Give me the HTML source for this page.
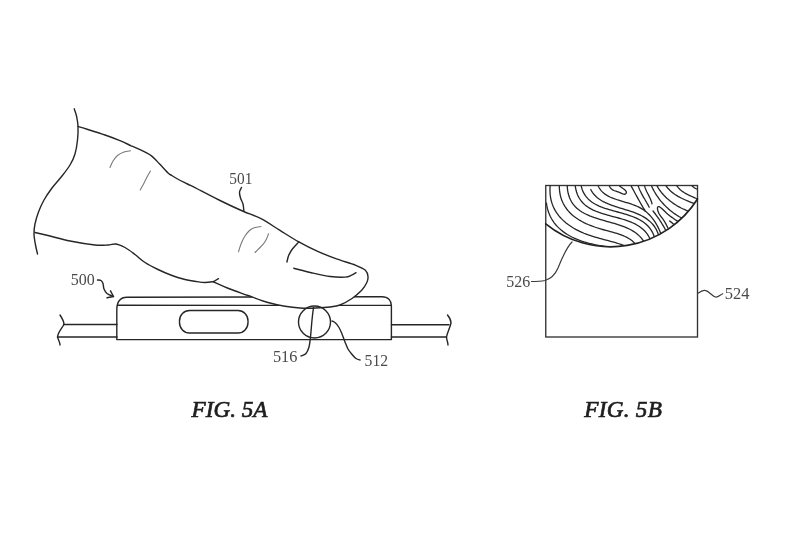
<!DOCTYPE html>
<html><head><meta charset="utf-8">
<style>
html,body{margin:0;padding:0;background:#fff;}
body{width:800px;height:533px;overflow:hidden;}
svg{display:block;}
text{font-family:"Liberation Serif",serif;}
.gs{filter:grayscale(1);}
</style></head>
<body>
<svg width="800" height="533" viewBox="0 0 800 533">
<g fill="none" stroke="#262626" stroke-width="1.4" stroke-linecap="round" stroke-linejoin="round">
<path d="M116.8,339.6 L116.8,310 C116.8,302 120,297.2 127,297.2 L382,296.7 C388,296.7 391.4,300.5 391.4,306 L391.4,339.6 Z"/>
<path d="M117.5,305.3 L391.4,305.4"/>
<rect x="179.5" y="310.5" width="68.5" height="22.5" rx="10" ry="10.5"/>
<path d="M63.5,324.5 L117,324.5"/>
<path d="M57.5,337 L117,337"/>
<path d="M60,315 C62,318 64,321 64,324.5 C62,328 58,332 57.5,337 C58,339 60,342 60,345"/>
<path d="M391.4,324.8 L449,324.8"/>
<path d="M391.4,337 L446.5,337"/>
<path d="M447.5,315 C450,318 451,321 451,323 C450,328 447,333 446.5,337 C446.5,340 448,342 448,345"/>
<path d="M317.7,251.4 C320.8,252.7 330.2,256.6 336.5,258.9 C342.8,261.2 350.6,263.3 355.4,265.2 C360.2,267.1 363.3,268.3 365.4,270.2 C367.5,272.1 367.8,274.4 368.0,276.5 C368.2,278.6 367.8,280.5 366.7,282.8 C365.6,285.1 364.1,287.7 361.7,290.3 C359.2,292.9 355.6,296.1 352.0,298.5 C348.4,300.9 343.7,303.6 340.0,305.0 C336.3,306.4 334.0,306.5 330.0,307.0 C326.0,307.5 321.0,307.8 316.0,308.0 C311.0,308.2 305.2,308.3 300.0,308.0 C294.8,307.7 290.3,307.2 285.0,306.3 C279.7,305.4 274.2,304.3 268.0,302.5 C261.8,300.7 254.3,297.8 248.0,295.5 C241.7,293.2 235.8,291.3 230.0,289.0 C224.2,286.7 216.2,283.0 213.5,281.8 Z" fill="#fff" stroke="none"/>
<ellipse cx="314.5" cy="322" rx="16" ry="16"/>
<path d="M74.2,108.8 C74.6,110.0 75.9,113.1 76.5,116.0 C77.1,118.9 77.8,122.0 78.0,126.0 C78.2,130.0 78.0,135.3 77.5,140.0 C77.0,144.7 76.2,149.8 75.0,154.0 C73.8,158.2 72.2,161.3 70.0,165.0 C67.8,168.7 65.0,172.2 62.0,176.0 C59.0,179.8 55.0,184.0 52.0,188.0 C49.0,192.0 46.2,196.0 44.0,200.0 C41.8,204.0 40.0,208.0 38.5,212.0 C37.0,216.0 35.8,220.3 35.0,224.0 C34.2,227.7 33.9,230.5 34.0,234.0 C34.1,237.5 34.9,241.7 35.5,245.0 C36.1,248.3 37.2,252.5 37.5,254.0"/>
<path d="M78.0,126.3 C82.5,127.8 98.0,132.6 105.0,135.0 C112.0,137.4 115.6,138.9 120.0,140.7 C124.4,142.5 127.5,144.1 131.2,145.8 C135.0,147.4 139.1,149.1 142.5,150.8 C145.9,152.5 148.7,153.7 151.5,155.9 C154.3,158.1 156.6,160.8 159.4,163.8 C162.2,166.7 166.5,171.4 168.4,173.3 C170.3,175.2 170.6,174.7 171.0,175.0"/>
<path d="M171.0,175.0 C172.2,175.8 175.8,178.0 178.5,179.5 C181.2,181.0 184.3,182.4 187.5,184.0 C190.7,185.6 192.2,186.2 197.6,189.0 C203.0,191.8 212.5,196.8 220.0,200.5 C227.5,204.2 235.7,208.0 242.5,211.0 C249.3,214.0 254.8,215.5 261.0,218.7 C267.2,221.9 273.7,226.5 280.0,230.4 C286.3,234.3 292.5,238.4 298.8,241.9 C305.1,245.4 311.4,248.6 317.7,251.4 C324.0,254.2 330.2,256.6 336.5,258.9 C342.8,261.2 350.6,263.3 355.4,265.2 C360.2,267.1 363.3,268.3 365.4,270.2 C367.5,272.1 367.8,274.4 368.0,276.5 C368.2,278.6 367.8,280.5 366.7,282.8 C365.6,285.1 364.1,287.7 361.7,290.3 C359.2,292.9 355.6,296.1 352.0,298.5 C348.4,300.9 343.7,303.6 340.0,305.0 C336.3,306.4 334.0,306.5 330.0,307.0 C326.0,307.5 321.0,307.8 316.0,308.0 C311.0,308.2 305.2,308.3 300.0,308.0 C294.8,307.7 290.3,307.2 285.0,306.3 C279.7,305.4 274.2,304.3 268.0,302.5 C261.8,300.7 254.3,297.8 248.0,295.5 C241.7,293.2 235.8,291.3 230.0,289.0 C224.2,286.7 216.2,283.0 213.5,281.8"/>
<path d="M35.0,232.5 C37.5,233.1 44.2,234.6 50.0,236.0 C55.8,237.4 62.5,239.5 70.0,241.0 C77.5,242.5 88.7,244.3 95.0,245.0 C101.3,245.7 104.5,245.2 108.0,245.0 C111.5,244.8 113.2,243.6 116.0,244.0 C118.8,244.4 121.8,245.8 125.0,247.5 C128.2,249.2 131.7,252.0 135.0,254.5 C138.3,257.0 141.2,260.0 145.0,262.5 C148.8,265.0 153.5,267.3 158.0,269.5 C162.5,271.7 167.5,273.8 172.0,275.5 C176.5,277.2 181.2,278.5 185.0,279.5 C188.8,280.5 191.7,280.8 195.0,281.3 C198.3,281.8 201.9,282.5 205.0,282.5 C208.1,282.5 212.3,281.7 213.8,281.5"/>
<path d="M298.8,241.9 C297.8,243.1 294.3,246.6 292.6,248.8 C290.9,251.0 289.8,252.9 288.8,255.1 C287.9,257.3 287.2,260.9 286.9,262.0"/>
<path d="M293.8,268.3 C296.7,269.0 305.3,271.3 311.4,272.7 C317.5,274.1 324.6,275.8 330.3,276.5 C336.0,277.2 341.8,277.3 345.3,277.1 C348.9,276.9 349.8,275.9 351.6,275.2 C353.4,274.5 355.3,273.1 356.0,272.7"/>
<path d="M241.5,187.5 C241.2,188.2 239.7,190.2 239.5,192.0 C239.3,193.8 239.9,196.0 240.5,198.0 C241.1,200.0 242.4,201.8 243.0,204.0 C243.6,206.2 243.7,209.8 243.8,211.0"/>
<path d="M97.5,280.0 C98.1,280.1 100.1,279.9 101.0,280.5 C101.9,281.1 102.5,282.1 103.0,283.5 C103.5,284.9 103.3,287.3 104.0,289.0 C104.7,290.7 105.4,292.2 107.0,293.5 C108.6,294.8 112.4,296.0 113.5,296.5"/>
<path d="M313.5,307.5 C313.2,309.6 312.5,315.1 312.0,320.0 C311.5,324.9 311.0,332.5 310.5,337.0 C310.0,341.5 309.8,344.2 309.0,347.0 C308.2,349.8 307.3,352.0 306.0,353.5 C304.7,355.0 301.8,355.6 301.0,356.0"/>
<path d="M332.0,321.0 C332.6,321.3 334.3,321.9 335.5,323.0 C336.7,324.1 337.9,325.7 339.0,327.5 C340.1,329.3 341.0,331.6 342.0,334.0 C343.0,336.4 344.0,339.5 345.0,342.0 C346.0,344.5 346.8,346.8 348.0,349.0 C349.2,351.2 351.2,353.4 352.5,355.0 C353.8,356.6 354.8,357.7 356.0,358.5 C357.2,359.3 359.3,359.8 360.0,360.0"/>
<path d="M213.75,281.5 L218.5,278.7"/>
<path d="M107,297.8 L113.5,296.5 L110.5,290.8"/>
</g>
<g fill="none" stroke="#7a7a7a" stroke-width="1.1" stroke-linecap="round">
<path d="M110.0,167.5 C110.5,166.4 111.8,163.0 113.0,161.0 C114.2,159.0 115.7,157.0 117.5,155.5 C119.3,154.0 121.8,152.8 124.0,152.0 C126.2,151.2 129.4,151.0 130.5,150.8"/>
<path d="M150.4,171.0 C149.7,172.3 147.2,176.7 146.0,179.0 C144.8,181.3 144.0,183.2 143.0,185.0 C142.0,186.8 140.7,189.2 140.2,190.0"/>
<path d="M238.5,251.8 C238.9,250.5 240.0,246.5 241.0,244.0 C242.0,241.5 243.2,238.9 244.5,236.8 C245.8,234.6 247.4,232.5 249.0,231.0 C250.6,229.5 252.2,228.5 254.2,227.8 C256.2,227.0 259.9,226.7 261.0,226.5"/>
<path d="M255.0,252.5 C255.7,251.8 257.6,249.9 259.0,248.5 C260.4,247.1 262.0,245.8 263.2,244.2 C264.5,242.7 265.6,240.8 266.5,239.0 C267.4,237.2 268.2,234.6 268.5,233.8"/>
</g>
<g class="gs" fill="#4a4a4a" font-size="17.2">
<text x="229.3" y="183.7" textLength="23" lengthAdjust="spacingAndGlyphs">501</text>
<text x="70.7" y="284.8" textLength="24" lengthAdjust="spacingAndGlyphs">500</text>
<text x="272.9" y="361.7" textLength="24.5" lengthAdjust="spacingAndGlyphs">516</text>
<text x="364.6" y="365.6" textLength="23.5" lengthAdjust="spacingAndGlyphs">512</text>
<text x="506.3" y="287.2" textLength="24" lengthAdjust="spacingAndGlyphs">526</text>
<text x="724.7" y="299.1" textLength="24.7" lengthAdjust="spacingAndGlyphs">524</text>
</g>
<g class="gs" fill="#1e1e1e" stroke="#1e1e1e" stroke-width="0.7" font-size="23.2" font-style="italic">
<text x="191.5" y="416.5">FIG. 5A</text>
<text x="584.3" y="416.5" textLength="77.5">FIG. 5B</text>
</g>
<defs>
<clipPath id="fp"><path d="M545.75,185.5 L697.5,185.5 L697.5,199 A102.95,102.95 0 0 1 545.75,223.8 Z"/></clipPath>
</defs>
<g fill="none" stroke-linecap="round">
<rect x="545.75" y="185.5" width="151.75" height="151.5" stroke="#333" stroke-width="1.35"/>
<path d="M697.5,199 A102.95,102.95 0 0 1 545.75,223.8" stroke="#222" stroke-width="1.7"/>
<path d="M572,242 C566,248 562,258 558,268 C555,275 550,279 545,280.5 C540,281.5 535,281.5 531.5,281.5" stroke="#3a3a3a" stroke-width="1.2"/>
<path d="M698.4,293 C701,291 703,290 705,290.4 C709,291 712,296 715.5,297 C718,297.5 720,295 722.7,293.7" stroke="#3a3a3a" stroke-width="1.2"/>
</g>
<g clip-path="url(#fp)" fill="none" stroke="#262626" stroke-width="1.3" stroke-linecap="round">
<path d="M546.42,203.03 L546.86,205.92 L547.47,208.69 L548.23,211.33 L549.15,213.86 L550.21,216.26 L551.41,218.55 L552.74,220.73 L554.19,222.81 L555.76,224.77 L557.45,226.63 L559.24,228.39 L561.13,230.05 L563.12,231.62 L565.19,233.10 L567.34,234.48 L569.57,235.78 L571.86,236.99 L574.21,238.12 L576.62,239.17 L579.08,240.15 L581.58,241.05 L584.11,241.88 L586.68,242.65 L589.26,243.35 L591.86,243.98 L594.47,244.56 L597.09,245.08 L599.70,245.54 L602.30,245.96 L604.89,246.32 L607.45,246.64 L609.99,246.92 L612.49,247.15 L614.95,247.35"/>
<path d="M550.52,182.43 L550.20,185.19 L550.01,187.87 L549.97,190.47 L550.06,192.99 L550.28,195.42 L550.63,197.78 L551.09,200.06 L551.68,202.26 L552.38,204.39 L553.18,206.44 L554.10,208.42 L555.11,210.33 L556.22,212.18 L557.43,213.95 L558.72,215.66 L560.11,217.30 L561.57,218.87 L563.11,220.38 L564.72,221.84 L566.40,223.23 L568.15,224.56 L569.96,225.83 L571.83,227.05 L573.75,228.21 L575.71,229.32 L577.73,230.37 L579.78,231.38 L581.88,232.33 L584.00,233.24 L586.16,234.09 L588.34,234.91 L590.54,235.67 L592.76,236.40 L594.99,237.08 L597.23,237.74 L599.47,238.36 L601.70,238.97 L603.93,239.56 L606.15,240.14 L608.35,240.71 L610.52,241.29 L612.67,241.88 L614.78,242.48 L616.86,243.10 L618.89,243.75 L620.87,244.43 L622.80,245.14 L624.68,245.90 L626.48,246.71"/>
<path d="M559.38,182.35 L559.28,185.14 L559.33,187.82 L559.52,190.39 L559.85,192.86 L560.31,195.24 L560.90,197.51 L561.61,199.69 L562.44,201.77 L563.39,203.76 L564.45,205.67 L565.61,207.49 L566.87,209.23 L568.23,210.88 L569.68,212.46 L571.21,213.97 L572.82,215.40 L574.51,216.76 L576.28,218.05 L578.10,219.27 L580.00,220.43 L581.94,221.53 L583.94,222.58 L585.99,223.56 L588.08,224.50 L590.21,225.38 L592.37,226.22 L594.57,227.01 L596.78,227.75 L599.01,228.46 L601.26,229.12 L603.52,229.75 L605.78,230.37 L608.03,230.96 L610.27,231.56 L612.49,232.16 L614.69,232.78 L616.85,233.42 L618.97,234.11 L621.05,234.84 L623.07,235.63 L625.03,236.49 L626.92,237.42 L628.74,238.45 L630.47,239.57 L632.12,240.80 L633.67,242.15 L635.11,243.62 L636.45,245.24 L637.67,247.00"/>
<path d="M567.23,182.28 L567.22,185.28 L567.37,188.10 L567.70,190.75 L568.17,193.25 L568.80,195.58 L569.57,197.77 L570.48,199.82 L571.51,201.74 L572.68,203.52 L573.95,205.19 L575.34,206.74 L576.84,208.18 L578.43,209.53 L580.11,210.78 L581.88,211.94 L583.73,213.02 L585.65,214.03 L587.63,214.96 L589.67,215.84 L591.77,216.67 L593.91,217.45 L596.10,218.19 L598.31,218.89 L600.56,219.57 L602.82,220.23 L605.10,220.87 L607.39,221.51 L609.68,222.15 L611.96,222.80 L614.23,223.46 L616.48,224.14 L618.71,224.84 L620.91,225.59 L623.07,226.37 L625.18,227.20 L627.25,228.08 L629.26,229.02 L631.20,230.04 L633.08,231.12 L634.88,232.29 L636.60,233.54 L638.22,234.89 L639.76,236.35 L641.19,237.90 L642.51,239.58 L643.72,241.37 L644.80,243.30 L645.76,245.36 L646.59,247.56"/>
<path d="M574.99,182.52 L575.20,185.28 L575.56,187.87 L576.07,190.30 L576.72,192.57 L577.51,194.69 L578.42,196.66 L579.45,198.50 L580.60,200.21 L581.86,201.80 L583.22,203.27 L584.68,204.63 L586.23,205.90 L587.86,207.06 L589.57,208.14 L591.36,209.14 L593.22,210.07 L595.13,210.93 L597.10,211.73 L599.12,212.48 L601.18,213.18 L603.28,213.84 L605.40,214.48 L607.56,215.09 L609.73,215.68 L611.91,216.26 L614.10,216.83 L616.29,217.41 L618.47,218.00 L620.64,218.61 L622.80,219.25 L624.93,219.91 L627.02,220.61 L629.09,221.36 L631.11,222.16 L633.08,223.03 L634.99,223.95 L636.85,224.95 L638.64,226.04 L640.36,227.20 L641.99,228.47 L643.55,229.83 L645.01,231.31 L646.37,232.90 L647.64,234.61 L648.79,236.45 L649.83,238.43 L650.74,240.55 L651.53,242.82 L652.18,245.25"/>
<path d="M580.76,183.25 L581.16,185.63 L581.70,187.86 L582.37,189.94 L583.18,191.89 L584.12,193.70 L585.18,195.39 L586.35,196.95 L587.63,198.41 L589.01,199.76 L590.49,201.02 L592.05,202.18 L593.70,203.26 L595.42,204.25 L597.22,205.18 L599.08,206.04 L601.00,206.85 L602.96,207.60 L604.98,208.31 L607.03,208.98 L609.12,209.62 L611.23,210.23 L613.36,210.83 L615.51,211.42 L617.67,212.00 L619.82,212.58 L621.97,213.18 L624.11,213.79 L626.24,214.42 L628.34,215.08 L630.41,215.77 L632.44,216.51 L634.44,217.30 L636.38,218.14 L638.27,219.05 L640.10,220.03 L641.86,221.08 L643.55,222.22 L645.16,223.44 L646.68,224.76 L648.11,226.19 L649.44,227.72 L650.67,229.37 L651.79,231.15 L652.79,233.05 L653.67,235.09 L654.41,237.27 L655.02,239.61 L655.49,242.10 L655.81,244.75"/>
<path d="M590.75,189.50 L591.63,191.09 L592.59,192.59 L593.66,193.99 L594.81,195.30 L596.04,196.53 L597.35,197.68 L598.74,198.75 L600.19,199.76 L601.71,200.70 L603.29,201.58 L604.92,202.41 L606.61,203.20 L608.33,203.94 L610.10,204.64 L611.90,205.31 L613.73,205.95 L615.59,206.57 L617.47,207.17 L619.36,207.76 L621.26,208.34 L623.18,208.92 L625.09,209.51 L626.99,210.10 L628.89,210.71 L630.78,211.33 L632.65,211.98 L634.49,212.66 L636.31,213.37 L638.09,214.12 L639.84,214.92 L641.55,215.76 L643.20,216.66 L644.81,217.62 L646.36,218.64 L647.85,219.73 L649.28,220.88 L650.63,222.10 L651.92,223.40 L653.12,224.78 L654.25,226.24 L655.28,227.79 L656.23,229.43 L657.08,231.17 L657.83,233.00 L658.47,234.93 L659.01,236.96 L659.44,239.11 L659.74,241.36 L659.93,243.73"/>
<path d="M597.38,183.85 L597.93,185.32 L598.56,186.70 L599.27,187.99 L600.06,189.19 L600.92,190.32 L601.85,191.37 L602.85,192.35 L603.92,193.26 L605.04,194.12 L606.21,194.91 L607.44,195.65 L608.71,196.35 L610.03,197.00 L611.38,197.61 L612.78,198.19 L614.20,198.73 L615.66,199.25 L617.13,199.75 L618.63,200.23 L620.15,200.69 L621.68,201.15 L623.22,201.60 L624.77,202.06 L626.32,202.52 L627.87,202.98 L629.41,203.47 L630.95,203.96 L632.47,204.49 L633.97,205.03 L635.46,205.61 L636.92,206.23 L638.36,206.88 L639.76,207.58 L641.13,208.33 L642.46,209.13 L643.75,209.99 L644.99,210.90 L646.20,211.86 L647.37,212.86 L648.50,213.92 L649.59,215.02 L650.64,216.17 L651.66,217.35 L652.63,218.58 L653.57,219.84 L654.47,221.14 L655.34,222.47 L656.16,223.83 L656.95,225.22 L657.71,226.65 L658.43,228.09 L659.11,229.56 L659.76,231.05 L660.38,232.57 L660.96,234.10 L661.51,235.64 L662.02,237.21 L662.50,238.78 L662.95,240.36"/>
<path d="M629.50,183.00 L630.31,184.46 L631.11,185.91 L631.91,187.38 L632.71,188.84 L633.50,190.31 L634.29,191.77 L635.08,193.24 L635.87,194.71 L636.67,196.17 L637.47,197.64 L638.27,199.10 L639.08,200.55 L639.89,202.01 L640.72,203.46 L641.55,204.90 L642.39,206.33 L643.25,207.76 L644.12,209.19 L645.00,210.60"/>
<path d="M637.40,183.00 L637.76,184.40 L638.17,185.78 L638.64,187.13 L639.14,188.45 L639.69,189.76 L640.28,191.05 L640.90,192.32 L641.55,193.58 L642.22,194.83 L642.90,196.07 L643.61,197.31 L644.32,198.54 L645.04,199.76 L645.75,200.99 L646.47,202.22 L647.18,203.45 L647.87,204.69 L648.55,205.94 L649.20,207.20"/>
<path d="M644.10,183.00 L644.25,184.20 L644.47,185.38 L644.76,186.53 L645.11,187.65 L645.51,188.75 L645.95,189.83 L646.43,190.90 L646.93,191.96 L647.46,193.01 L647.99,194.06 L648.53,195.10 L649.06,196.15 L649.58,197.20 L650.08,198.26 L650.55,199.33 L650.99,200.42 L651.38,201.52 L651.72,202.65 L652.00,203.80"/>
<path d="M650.30,183.00 L650.90,184.51 L651.55,186.00 L652.23,187.47 L652.94,188.92 L653.69,190.35 L654.48,191.77 L655.30,193.16 L656.16,194.53 L657.04,195.89 L657.97,197.22 L658.92,198.52 L659.90,199.81 L660.91,201.07 L661.96,202.31 L663.03,203.52 L664.13,204.71 L665.26,205.87 L666.41,207.00 L667.60,208.11 L668.80,209.18 L670.03,210.23 L671.29,211.25 L672.57,212.24 L673.87,213.20 L675.20,214.13 L676.54,215.03 L677.91,215.90 L679.29,216.73 L680.70,217.53 L682.12,218.29 L683.57,219.02 L685.03,219.72 L686.50,220.38 L687.99,221.00"/>
<path d="M655.57,183.01 L656.34,184.58 L657.17,186.12 L658.05,187.62 L658.99,189.08 L659.97,190.50 L661.01,191.88 L662.09,193.23 L663.22,194.53 L664.39,195.80 L665.60,197.03 L666.85,198.22 L668.14,199.37 L669.47,200.48 L670.83,201.56 L672.22,202.59 L673.64,203.59 L675.09,204.54 L676.56,205.46 L678.06,206.34 L679.59,207.18 L681.13,207.98 L682.69,208.74 L684.27,209.46 L685.86,210.15 L687.47,210.79 L689.09,211.40 L690.72,211.96 L692.35,212.49 L693.99,212.98"/>
<path d="M664.28,183.01 L665.20,184.58 L666.19,186.07 L667.27,187.48 L668.41,188.81 L669.61,190.07 L670.88,191.26 L672.21,192.38 L673.59,193.45 L675.01,194.46 L676.48,195.41 L677.99,196.32 L679.53,197.18 L681.10,198.00 L682.70,198.78 L684.31,199.53 L685.94,200.26 L687.58,200.96 L689.23,201.64 L690.88,202.30 L692.52,202.95 L694.16,203.59 L695.79,204.23 L697.40,204.87 L698.98,205.51"/>
<path d="M675.40,183.00 L676.17,184.57 L677.05,186.02 L678.02,187.34 L679.08,188.56 L680.23,189.67 L681.44,190.70 L682.72,191.65 L684.06,192.52 L685.44,193.34 L686.86,194.11 L688.31,194.84 L689.79,195.54 L691.27,196.23 L692.76,196.90 L694.25,197.58 L695.73,198.26 L697.18,198.97 L698.61,199.72 L700.00,200.50"/>
<path d="M689.0,183.0 C689.9,183.8 692.8,186.8 694.6,188.0 C696.4,189.2 699.1,189.7 700.0,190.0"/>
<path d="M653.01,210.99 L653.80,211.99 L654.58,213.00 L655.35,214.01 L656.12,215.04 L656.87,216.07 L657.61,217.10 L658.34,218.15 L659.06,219.20 L659.77,220.26 L660.47,221.33 L661.15,222.41 L661.83,223.49 L662.49,224.58 L663.14,225.68 L663.79,226.78 L664.42,227.89 L665.03,229.01 L665.64,230.13 L666.23,231.26 L666.81,232.39 L667.38,233.54 L667.94,234.68 L668.48,235.84 L669.01,237.00"/>
<path d="M672.00,235.00 L671.29,233.96 L670.63,232.89 L669.99,231.82 L669.39,230.73 L668.81,229.64 L668.24,228.54 L667.69,227.45 L667.13,226.35 L666.57,225.26 L666.01,224.18 L665.42,223.11 L664.82,222.05 L664.18,221.00 L663.51,219.97 L662.80,218.97 L662.05,217.98 L661.28,216.99 L660.52,215.98 L659.78,214.93 L659.10,213.81 L658.50,212.61 L658.00,211.31 L657.63,209.97 L657.45,208.72 L657.50,207.67 L657.80,206.91 L658.33,206.54 L659.02,206.58 L659.85,206.98 L660.78,207.65 L661.79,208.52 L662.84,209.52 L663.90,210.57 L664.95,211.59 L665.95,212.54 L666.91,213.41 L667.84,214.22 L668.77,214.98 L669.69,215.70 L670.62,216.41 L671.57,217.12 L672.55,217.83 L673.55,218.54 L674.56,219.25 L675.59,219.96 L676.63,220.66 L677.68,221.36 L678.74,222.06 L679.80,222.74 L680.85,223.42 L681.90,224.08 L682.95,224.74 L683.98,225.38 L685.00,226.00"/>
<path d="M669.7,221.0 C670.3,221.5 672.2,222.8 673.4,224.0 C674.6,225.2 676.4,227.3 677.0,228.0"/>
<path d="M608.75,183.01 L608.99,184.45 L609.34,185.70 L609.78,186.77 L610.30,187.67 L610.91,188.44 L611.60,189.08 L612.36,189.63 L613.18,190.09 L614.07,190.50 L615.02,190.87 L616.02,191.22 L617.06,191.57 L618.15,191.94 L619.27,192.36 L620.42,192.84 L621.58,193.35 L622.71,193.82 L623.77,194.15 L624.71,194.25 L625.49,194.03 L626.06,193.48 L626.35,192.71 L626.30,191.89 L625.92,191.09 L625.26,190.30 L624.39,189.52 L623.38,188.75 L622.30,187.97 L621.21,187.18 L620.18,186.39 L619.28,185.58 L618.57,184.75 L618.12,183.90 L617.99,183.01"/>
</g>
</svg>
</body></html>
